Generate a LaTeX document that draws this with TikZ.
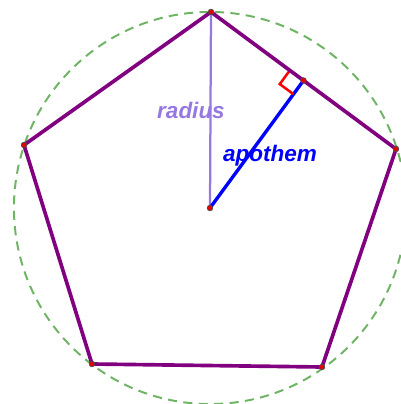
\documentclass[tikz,border=0pt]{standalone}
\usepackage{fontspec}
\setsansfont{Liberation Sans}
\usepackage{tikz}
\definecolor{edgepurple}{RGB}{128,0,128}
\definecolor{radiuspurple}{RGB}{150,120,225}
\definecolor{circgreen}{RGB}{110,180,100}
\definecolor{apoblue}{RGB}{0,0,255}

\begin{document}
\begin{tikzpicture}[x=0.025cm,y=-0.025cm]
\tikzset{vtx/.style={circle,fill=red!90!black,draw=black!70,inner sep=0pt,minimum size=4pt,line width=.5pt},
  side/.style={draw=edgepurple,line width=2.6pt,line join=round},
  lab/.style={font=\sffamily\bfseries\itshape\fontsize{16}{18}\selectfont}}
\useasboundingbox (0,0) rectangle (401,404);
% points of the pentagon
\coordinate (ctr) at (210,208);
\coordinate (top) at (211,12);
\coordinate (rgt) at (396,149);
\coordinate (br) at (322,367);
\coordinate (bl) at (92,364);
\coordinate (lft) at (24,145);
\coordinate (foot) at (303.5,80.5);
\draw[circgreen,line width=1.4pt,dash pattern=on 6.5pt off 4.5pt] (ctr) circle (4.9cm);
\node[lab,radiuspurple] (radlab) at (191,110) {radius};
\node[lab,apoblue] (apolab) at (270,156) {apothem};
\draw[radiuspurple,line width=1.6pt] (ctr) -- (top);
\draw[apoblue,line width=2.4pt] (ctr) -- (foot);
\draw[red,line width=1.8pt] (289.8,70.4) -- (279.8,84.1) -- (293.5,94.2);
\draw[side] (top) -- (rgt) -- (br) -- (bl) -- (lft) -- cycle;
\foreach \p in {ctr,top,rgt,br,bl,lft,foot}
  \node[vtx] (\p-dot) at (\p) {};
\end{tikzpicture}
\end{document}
